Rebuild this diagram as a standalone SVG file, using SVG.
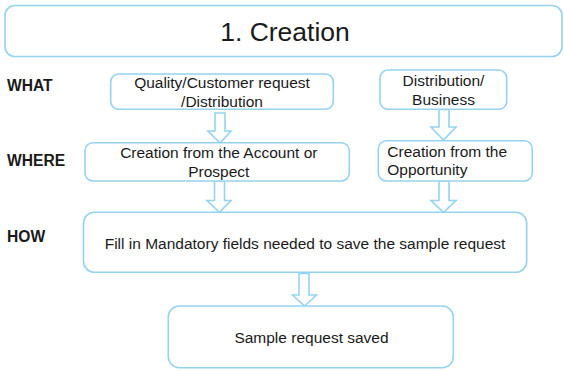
<svg xmlns="http://www.w3.org/2000/svg" width="564" height="371" viewBox="0 0 564 371">
  <style>
    .box { fill: #ffffff; stroke: #95d3f1; stroke-width: 1.6; }
    .arrow { fill: #ffffff; stroke: #95d3f1; stroke-width: 1.6; stroke-linejoin: miter; }
    .txt { font-family: "Liberation Sans", Arial, sans-serif; font-size: 15.5px; fill: #1a1a1a; }
    .mid { text-anchor: middle; }
    .label { font-family: "Liberation Sans", Arial, sans-serif; font-size: 15.6px; font-weight: bold; fill: #1a1a1a; }
    .title { font-family: "Liberation Sans", Arial, sans-serif; font-size: 26.5px; fill: #1a1a1a; text-anchor: middle; }
  </style>
  <rect width="564" height="371" fill="#ffffff"/>

  <!-- header -->
  <g id="title">
    <rect class="box" x="5" y="5.5" width="557" height="51" rx="10"/>
    <text class="title" x="285" y="40.5">1. Creation</text>
  </g>

  <!-- row labels -->
  <g id="row-labels">
    <text class="label" x="7" y="91">WHAT</text>
    <text class="label" x="7" y="166">WHERE</text>
    <text class="label" x="7" y="241.5">HOW</text>
  </g>

  <!-- block arrows between steps -->
  <g id="connectors">
    <path class="arrow" d="M215,113 H225 V131 H231 L220,143 L208,131 H215 Z"/>
    <path class="arrow" d="M439,109.5 H449 V127 H456 L443.5,140 L431,127 H439 Z"/>
    <path class="arrow" d="M214.5,181 H224.5 V200.5 H231 L219.5,212.3 L207,200.5 H214.5 Z"/>
    <path class="arrow" d="M439,181 H449 V200.5 H456 L443.5,212.3 L431,200.5 H439 Z"/>
    <path class="arrow" d="M299,273.5 H309 V295 H316.5 L304.5,306 L292.5,295 H299 Z"/>
  </g>

  <g id="what-request">
    <rect class="box" x="110.7" y="74" width="222.6" height="35.3" rx="8"/>
    <text class="txt mid" x="222" y="88">Quality/Customer request</text>
    <text class="txt mid" x="222" y="106.5">/Distribution</text>
  </g>

  <g id="what-business">
    <rect class="box" x="380" y="70" width="126.7" height="39.3" rx="8"/>
    <text class="txt mid" x="443.5" y="86">Distribution/</text>
    <text class="txt mid" x="443.5" y="105">Business</text>
  </g>

  <g id="where-account">
    <rect class="box" x="85" y="142.7" width="264.3" height="38.3" rx="8"/>
    <text class="txt mid" x="218.8" y="158">Creation from the Account or</text>
    <text class="txt mid" x="218.8" y="176.5">Prospect</text>
  </g>

  <g id="where-opportunity">
    <rect class="box" x="378.3" y="140.7" width="154" height="40.3" rx="8"/>
    <text class="txt" x="387.3" y="157">Creation from the</text>
    <text class="txt" x="387.3" y="175">Opportunity</text>
  </g>

  <g id="how-fields">
    <rect class="box" x="83.5" y="212.3" width="443.2" height="60" rx="11"/>
    <text class="txt mid" x="305" y="249">Fill in Mandatory fields needed to save the sample request</text>
  </g>

  <g id="saved">
    <rect class="box" x="168.3" y="306" width="285" height="61.7" rx="11"/>
    <text class="txt mid" x="311.5" y="343">Sample request saved</text>
  </g>
</svg>
